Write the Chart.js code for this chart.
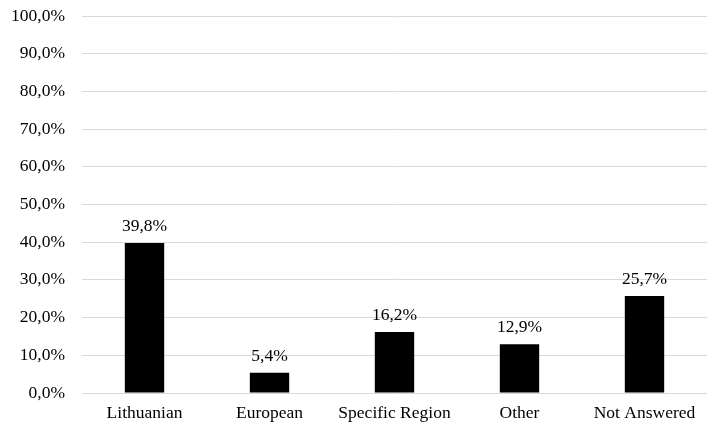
<!DOCTYPE html>
<html>
<head>
<meta charset="utf-8">
<script src="https://cdn.jsdelivr.net/npm/chart.js@4/dist/chart.umd.min.js"></script>
<style>
  html, body { margin: 0; padding: 0; background: #fff; }
  #wrap { width: 708px; height: 424px; }
</style>
</head>
<body>
<div id="wrap"><canvas id="myChart"></canvas></div>
<script>
// data
const categories = ['Lithuanian', 'European', 'Specific Region', 'Other', 'Not Answered'];
const shares = [39.8, 5.4, 16.2, 12.9, 25.7];
const yTicks = [0, 10, 20, 30, 40, 50, 60, 70, 80, 90, 100];

const pct = v => v.toFixed(1).replace('.', ',') + '%';

// value labels above bars
const barLabels = {
    id: 'barLabels',
    afterDatasetsDraw(chart) {
        const ctx = chart.ctx;
        const meta = chart.getDatasetMeta(0);
        ctx.save();
        ctx.font = '17.5px "Liberation Serif", "Times New Roman", serif';
        ctx.fillStyle = '#000';
        ctx.textAlign = 'center';
        ctx.textBaseline = 'alphabetic';
        meta.data.forEach((bar, i) => {
            ctx.fillText(pct(shares[i]), bar.x, bar.y - 12);
        });
        ctx.restore();
    }
};

Chart.defaults.font.family = '"Liberation Serif", "Times New Roman", serif';
Chart.defaults.font.size = 17.5;
Chart.defaults.color = '#000';

const ctx = document.getElementById('myChart').getContext('2d');
const myChart = new Chart(ctx, {
    type: 'bar',
    data: {
        labels: categories,
        datasets: [{
            data: shares,
            backgroundColor: '#000',
            borderWidth: 0,
            barPercentage: 0.315,
            categoryPercentage: 1
        }]
    },
    options: {
        responsive: true,
        maintainAspectRatio: false,
        animation: false,
        layout: { padding: { top: 16, right: 1, left: 0, bottom: 0 } },
        plugins: {
            legend: { display: false },
            tooltip: { enabled: false }
        },
        scales: {
            x: {
                grid: { display: false },
                border: { display: false },
                ticks: { padding: 2, maxRotation: 0, autoSkip: false },
                afterFit(scale) {
                    scale.height = 31;
                    scale.paddingLeft = 0; scale.paddingRight = 0;
                }
            },
            y: {
                min: 0,
                max: 100,
                afterBuildTicks(scale) { scale.ticks = yTicks.map(v => ({ value: v })); },
                ticks: { padding: 17, callback: v => pct(v) },
                grid: { color: '#d9d9d9', lineWidth: 1, drawTicks: false },
                border: { display: false },
                afterFit(scale) {
                    scale.width = 82;
                    scale.paddingTop = 0; scale.paddingBottom = 0;
                }
            }
        }
    },
    plugins: [barLabels]
});
</script>
</body>
</html>
